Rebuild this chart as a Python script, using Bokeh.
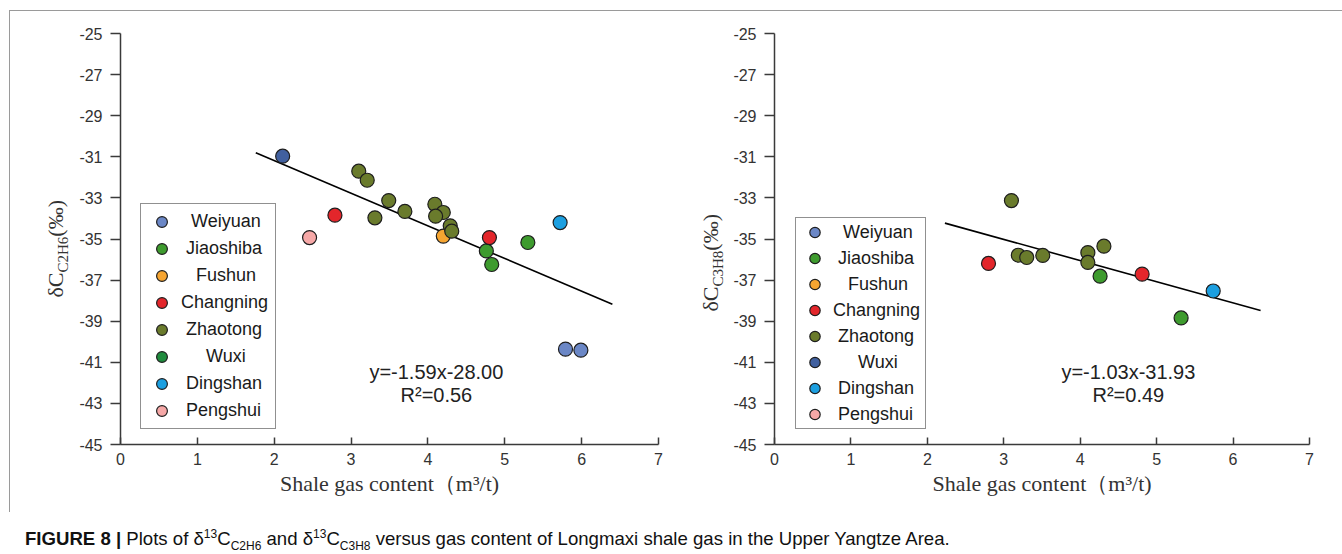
from bokeh.embed import file_html
from bokeh.layouts import column, row
from bokeh.models import Div, FixedTicker, Label, Legend, LegendItem, Range1d
from bokeh.plotting import figure
from bokeh.resources import INLINE

# ---------------------------------------------------------------- data
regions = ["Weiyuan", "Jiaoshiba", "Fushun", "Changning",
           "Zhaotong", "Wuxi", "Dingshan", "Pengshui"]

# delta13C of ethane (permil) against shale gas content (m3/t)
c2h6_x = {
    "Weiyuan": [5.79, 5.99],
    "Jiaoshiba": [4.76, 4.83, 5.30],
    "Fushun": [4.20],
    "Changning": [2.79, 4.80],
    "Zhaotong": [3.10, 3.21, 3.49, 3.70, 3.31, 4.09, 4.20, 4.10, 4.29, 4.31],
    "Wuxi": [2.11],
    "Dingshan": [5.72],
    "Pengshui": [2.46],
}
c2h6_y = {
    "Weiyuan": [-40.36, -40.41],
    "Jiaoshiba": [-35.58, -36.24, -35.17],
    "Fushun": [-34.86],
    "Changning": [-33.84, -34.93],
    "Zhaotong": [-31.70, -32.14, -33.13, -33.66, -33.97, -33.31, -33.71, -33.89, -34.36, -34.62],
    "Wuxi": [-30.97],
    "Dingshan": [-34.20],
    "Pengshui": [-34.93],
}

# delta13C of propane (permil) against shale gas content (m3/t)
c3h8_x = {
    "Jiaoshiba": [4.26, 5.32],
    "Changning": [2.80, 4.81],
    "Zhaotong": [3.10, 3.19, 3.30, 3.51, 4.10, 4.10, 4.31],
    "Dingshan": [5.74],
}
c3h8_y = {
    "Jiaoshiba": [-36.81, -38.84],
    "Changning": [-36.19, -36.71],
    "Zhaotong": [-33.13, -35.79, -35.90, -35.80, -35.66, -36.14, -35.35],
    "Dingshan": [-37.53],
}

# linear fits: slope, intercept, R2, fitted x span
c2h6_fit = (-1.59, -28.00, 0.56, (1.76, 6.40))
c3h8_fit = (-1.03, -31.93, 0.49, (2.23, 6.36))

x_ticks = [0, 1, 2, 3, 4, 5, 6, 7]
y_ticks = [-45, -43, -41, -39, -37, -35, -33, -31, -29, -27, -25]

# ---------------------------------------------------------------- style
colors = {
    "Weiyuan": "#6b87c6",
    "Jiaoshiba": "#3e9b2e",
    "Fushun": "#f6a531",
    "Changning": "#e3262b",
    "Zhaotong": "#6a7b2c",
    "Wuxi": "#41609f",
    "Dingshan": "#1c9fe0",
    "Pengshui": "#f6a8a7",
}
# swatch colour for Wuxi in the ethane key
wuxi_key_ethane = "#1f8b3d"

# non-breaking spaces that centre each name in the key column
key_pad = {"Weiyuan": 2, "Jiaoshiba": 1, "Fushun": 3, "Changning": 0,
           "Zhaotong": 1, "Wuxi": 5, "Dingshan": 1, "Pengshui": 1}

SANS = "Liberation Sans"
SERIF = "Liberation Serif"
AXIS_COLOR = "#3a3a3a"
INK = "#1e1e1e"
NAN = float("nan")


def make_panel(width, border_left, border_right):
    p = figure(width=width, height=501,
               x_range=Range1d(0, 7), y_range=Range1d(-45, -25),
               output_backend="svg", toolbar_location=None,
               min_border_left=border_left, min_border_right=border_right,
               min_border_top=22, min_border_bottom=68)
    p.background_fill_color = "white"
    p.border_fill_color = "white"
    p.outline_line_color = None
    p.grid.grid_line_color = None

    xa = p.xaxis[0]
    xa.ticker = FixedTicker(ticks=x_ticks)
    xa.major_tick_in = 7
    xa.major_tick_out = 0
    xa.minor_tick_line_color = None
    xa.axis_line_color = AXIS_COLOR
    xa.axis_line_width = 1.5
    xa.major_tick_line_color = AXIS_COLOR
    xa.major_tick_line_width = 1.5
    xa.major_label_standoff = 8
    xa.major_label_text_font = SANS
    xa.major_label_text_font_size = "16px"
    xa.major_label_text_color = "#333333"
    xa.axis_label = "Shale gas content（m³/t)"
    xa.axis_label_text_font = SERIF
    xa.axis_label_text_font_size = "22px"
    xa.axis_label_text_font_style = "normal"
    xa.axis_label_text_color = "#333333"
    xa.axis_label_standoff = 3

    ya = p.yaxis[0]
    ya.ticker = FixedTicker(ticks=y_ticks)
    ya.major_label_overrides = {t: str(t) for t in y_ticks}
    ya.major_tick_in = 0
    ya.major_tick_out = 10
    ya.minor_tick_line_color = None
    ya.axis_line_color = AXIS_COLOR
    ya.axis_line_width = 1.5
    ya.major_tick_line_color = AXIS_COLOR
    ya.major_tick_line_width = 1.5
    ya.major_label_standoff = 8
    ya.major_label_text_font = SANS
    ya.major_label_text_font_size = "16px"
    ya.major_label_text_color = "#333333"
    return p


def add_fit(p, fit, tx, ty):
    slope, intercept, r2, (x0, x1) = fit
    xs = [x0, x1]
    ys = [slope * x + intercept for x in xs]
    p.line(xs, ys, line_color="black", line_width=1.6)
    sign = "-" if intercept < 0 else "+"
    eq = f"y={slope:.2f}x{sign}{abs(intercept):.2f}"
    for text, dy in ((eq, 0.0), (f"R²={r2:.2f}", -1.13)):
        p.add_layout(Label(x=tx, y=ty + dy, text=text, text_align="center",
                           text_baseline="middle", text_font=SANS,
                           text_font_size="20px", text_color="#222222"))


def add_points(p, xs, ys, key_colors, key_style):
    items = []
    for name in regions:
        r = None
        if name in xs:
            r = p.scatter(xs[name], ys[name], size=14, marker="circle",
                          fill_color=colors[name], line_color=INK, line_width=1.2)
        swatch = key_colors.get(name, colors[name])
        if r is None or swatch != colors[name]:
            # key-only swatch: a single undrawn point
            r = p.scatter([NAN], [NAN], size=14, marker="circle",
                          fill_color=swatch, line_color=INK, line_width=1.2)
        items.append(LegendItem(label="\u00a0" * key_pad[name] + name, renderers=[r]))
    legend = Legend(items=items, **key_style)
    legend.label_text_font = SANS
    legend.label_text_font_size = "18px"
    legend.label_text_color = "#1a1a1a"
    legend.border_line_color = "#222222"
    legend.border_line_width = 1.5
    legend.background_fill_color = "white"
    legend.background_fill_alpha = 1.0
    legend.margin = 0
    p.add_layout(legend)


def ylabel_div(sub, width, top, left):
    # vertical delta-C axis title with a chemical subscript, read bottom to top
    html = (
        f'<span style="display:inline-block; writing-mode:vertical-rl; '
        f'text-orientation:sideways; transform:rotate(180deg); '
        f'font-family:\'Liberation Serif\', serif; '
        f'font-size:22px; line-height:26px; color:#333333; white-space:nowrap; '
        f'margin-top:{top}px; margin-left:{left}px;">'
        f'δC<sub style="font-size:15px;">{sub}</sub>(‰)</span>'
    )
    return Div(text=html, width=width, height=501, margin=0)


# ---------------------------------------------------------------- ethane panel
p1 = make_panel(618, 48, 32)
add_fit(p1, c2h6_fit, 4.11, -41.47)
add_points(p1, c2h6_x, c2h6_y, {"Wuxi": wuxi_key_ethane},
           dict(location=(20, 15), glyph_height=27, glyph_width=33,
                label_height=27, label_width=90, spacing=0, padding=4,
                label_standoff=3))

# ---------------------------------------------------------------- propane panel
p2 = make_panel(612, 42, 33)
add_fit(p2, c3h8_fit, 4.63, -41.47)
add_points(p2, c3h8_x, c3h8_y, {},
           dict(location=(21, 15), glyph_height=26, glyph_width=35,
                label_height=26, label_width=91, spacing=0, padding=1,
                label_standoff=1))

panels = row(ylabel_div("C2H6", 62, 189, 33), p1, ylabel_div("C3H8", 40, 203, 8), p2,
             margin=(10, 0, 0, 9),
             styles={"border-top": "1px solid #9a9a9a", "border-left": "1px solid #9a9a9a"})

caption = Div(
    text=("<b>FIGURE 8 |</b> Plots of δ<sup style=\"font-size:12px; line-height:0;\">13</sup>"
          "C<sub style=\"font-size:12px; line-height:0;\">C2H6</sub> and "
          "δ<sup style=\"font-size:12px; line-height:0;\">13</sup>"
          "C<sub style=\"font-size:12px; line-height:0;\">C3H8</sub> versus gas content "
          "of Longmaxi shale gas in the Upper Yangtze Area."),
    width=1300, height=24, margin=(17, 0, 0, 25),
    styles={"font-family": "'Liberation Sans', Arial, sans-serif", "font-size": "18.6px",
            "line-height": "20px", "color": "#111111"},
)

page = column(panels, caption)

with open("out.html", "w") as f:
    f.write(file_html(page, INLINE))
